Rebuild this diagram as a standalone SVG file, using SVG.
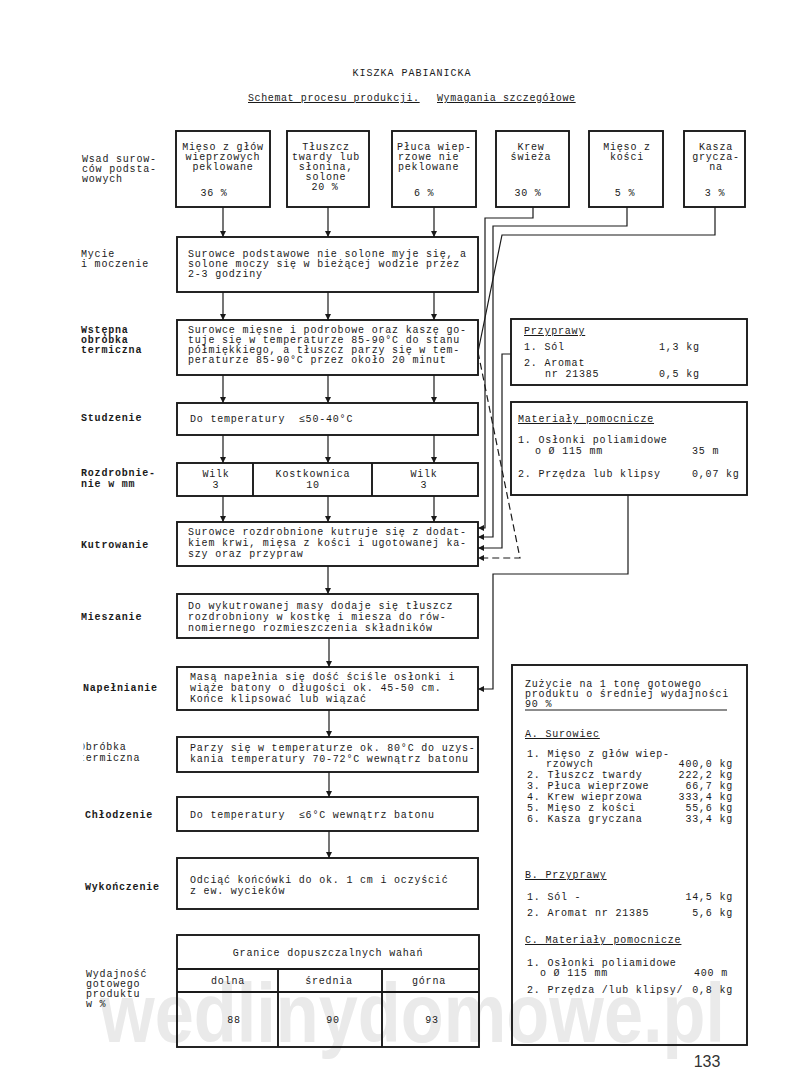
<svg xmlns="http://www.w3.org/2000/svg" width="800" height="1090" viewBox="0 0 800 1090">
<defs>
<style>
.t{font-family:"Liberation Mono","DejaVu Sans Mono",monospace;font-size:10px;letter-spacing:0.8px;fill:#1a1a1a}
.b{font-weight:bold}
.m{text-anchor:middle}
.e{text-anchor:end}
.u{text-decoration:underline}
.box{fill:none;stroke:#1a1a1a;stroke-width:1.9}
.c{fill:none;stroke:#1a1a1a;stroke-width:1.2}
.d{stroke-dasharray:7 4}
</style>
<marker id="ah" viewBox="0 0 10 10" refX="10" refY="5" markerWidth="6" markerHeight="6" markerUnits="userSpaceOnUse" orient="auto"><path d="M0,0L10,5L0,10z" fill="#1a1a1a"/></marker>
<clipPath id="clipL"><rect x="83.5" y="735" width="100" height="35"/></clipPath>
</defs>
<rect width="800" height="1090" fill="#fff"/>
<text x="100" y="1042" font-family="'Liberation Sans',Arial,sans-serif" font-weight="bold" font-size="84" textLength="625" lengthAdjust="spacingAndGlyphs" fill="#eaeaea">wedlinydomowe.pl</text>

<g id="title">
<text class="t" x="412" y="76" text-anchor="middle" style="letter-spacing:1px">KISZKA PABIANICKA</text>
<text class="t u" x="248" y="101" style="letter-spacing:0.6px">Schemat procesu produkcji.</text>
<text class="t u" x="437" y="101" style="letter-spacing:0.6px">Wymagania szczegółowe</text>
</g>

<g id="labels">
<text class="t" x="82" y="162">Wsad surow-</text>
<text class="t" x="82" y="172">ców podsta-</text>
<text class="t" x="82" y="182">wowych</text>
<text class="t" x="81" y="257">Mycie</text>
<text class="t" x="81" y="267">i moczenie</text>
<text class="t b" x="81" y="333">Wstępna</text>
<text class="t b" x="81" y="343">obróbka</text>
<text class="t b" x="81" y="353">termiczna</text>
<text class="t b" x="81" y="421">Studzenie</text>
<text class="t b" x="81" y="476">Rozdrobnie-</text>
<text class="t b" x="81" y="487">nie w mm</text>
<text class="t b" x="81" y="548">Kutrowanie</text>
<text class="t b" x="81" y="620">Mieszanie</text>
<text class="t b" x="83" y="691">Napełnianie</text>
<g clip-path="url(#clipL)">
<text class="t" x="79" y="750">Obróbka</text>
<text class="t" x="79" y="761">termiczna</text>
</g>
<text class="t b" x="85" y="818">Chłodzenie</text>
<text class="t b" x="85" y="890">Wykończenie</text>
<text class="t" x="86" y="977">Wydajność</text>
<text class="t" x="86" y="987">gotowego</text>
<text class="t" x="86" y="997">produktu</text>
<text class="t" x="86" y="1007">w %</text>
</g>

<g id="n-mieso-glow">
<rect class="box" x="176" y="131" width="94" height="76"/>
<text class="t m" x="223" y="150">Mięso z głów</text>
<text class="t m" x="223" y="160">wieprzowych</text>
<text class="t m" x="223" y="170">peklowane</text>
<text class="t m" x="214" y="196">36 %</text>
</g>
<g id="n-tluszcz">
<rect class="box" x="287" y="131" width="82" height="76"/>
<text class="t m" x="326" y="150">Tłuszcz</text>
<text class="t m" x="326" y="160">twardy lub</text>
<text class="t m" x="326" y="170">słonina,</text>
<text class="t m" x="326" y="180">solone</text>
<text class="t m" x="325" y="190">20 %</text>
</g>
<g id="n-pluca">
<rect class="box" x="392" y="131" width="84" height="76"/>
<text class="t" x="397" y="150">Płuca wiep-</text>
<text class="t" x="398" y="160">rzowe nie</text>
<text class="t" x="398" y="170">peklowane</text>
<text class="t" x="414" y="196">6 %</text>
</g>
<g id="n-krew">
<rect class="box" x="496" y="131" width="73" height="76"/>
<text class="t m" x="531" y="150">Krew</text>
<text class="t m" x="531" y="160">świeża</text>
<text class="t m" x="528" y="196">30 %</text>
</g>
<g id="n-mieso-kosci">
<rect class="box" x="589" y="131" width="74" height="76"/>
<text class="t m" x="627" y="150">Mięso z</text>
<text class="t m" x="627" y="160">kości</text>
<text class="t m" x="625" y="196">5 %</text>
</g>
<g id="n-kasza">
<rect class="box" x="684" y="131" width="61" height="76"/>
<text class="t m" x="716" y="150">Kasza</text>
<text class="t m" x="716" y="160">grycza-</text>
<text class="t m" x="716" y="170">na</text>
<text class="t m" x="715" y="196">3 %</text>
</g>

<g id="n-mycie">
<rect class="box" x="177" y="237" width="301" height="55"/>
<text class="t" x="188" y="257">Surowce podstawowe nie solone myje się, a</text>
<text class="t" x="188" y="267">solone moczy się w bieżącej wodzie przez</text>
<text class="t" x="188" y="277">2-3 godziny</text>
</g>
<g id="n-wstepna">
<rect class="box" x="177" y="320" width="301" height="55"/>
<text class="t" x="188" y="333">Surowce mięsne i podrobowe oraz kaszę go-</text>
<text class="t" x="188" y="343">tuje się w temperaturze 85-90°C do stanu</text>
<text class="t" x="188" y="353">półmiękkiego, a tłuszcz parzy się w tem-</text>
<text class="t" x="188" y="363">peraturze 85-90°C przez około 20 minut</text>
</g>
<g id="n-studzenie">
<rect class="box" x="177" y="403" width="301" height="32"/>
<text class="t" x="190" y="422" xml:space="preserve">Do temperatury  ≤50-40°C</text>
</g>
<g id="n-rozdrobnienie">
<rect class="box" x="177" y="463" width="301" height="33"/>
<path class="box" d="M253,463V496M372,463V496"/>
<text class="t m" x="216" y="477">Wilk</text>
<text class="t m" x="216" y="488">3</text>
<text class="t m" x="313" y="477">Kostkownica</text>
<text class="t m" x="313" y="488">10</text>
<text class="t m" x="424" y="477">Wilk</text>
<text class="t m" x="424" y="488">3</text>
</g>
<g id="n-kutrowanie">
<rect class="box" x="177" y="522" width="301" height="44"/>
<text class="t" x="188" y="535">Surowce rozdrobnione kutruje się z dodat-</text>
<text class="t" x="188" y="546">kiem krwi, mięsa z kości i ugotowanej ka-</text>
<text class="t" x="188" y="557">szy oraz przypraw</text>
</g>
<g id="n-mieszanie">
<rect class="box" x="177" y="594" width="301" height="44"/>
<text class="t" x="188" y="609">Do wykutrowanej masy dodaje się tłuszcz</text>
<text class="t" x="188" y="620">rozdrobniony w kostkę i miesza do rów-</text>
<text class="t" x="188" y="631">nomiernego rozmieszczenia składników</text>
</g>
<g id="n-napelnianie">
<rect class="box" x="177" y="667" width="301" height="43"/>
<text class="t" x="190" y="680">Masą napełnia się dość ściśle osłonki i</text>
<text class="t" x="190" y="691">wiąże batony o długości ok. 45-50 cm.</text>
<text class="t" x="190" y="702">Końce klipsować lub wiązać</text>
</g>
<g id="n-obrobka">
<rect class="box" x="177" y="737" width="301" height="35"/>
<text class="t" x="190" y="751">Parzy się w temperaturze ok. 80°C do uzys-</text>
<text class="t" x="190" y="762">kania temperatury 70-72°C wewnątrz batonu</text>
</g>
<g id="n-chlodzenie">
<rect class="box" x="177" y="797" width="301" height="34"/>
<text class="t" x="190" y="818" xml:space="preserve">Do temperatury  ≤6°C wewnątrz batonu</text>
</g>
<g id="n-wykonczenie">
<rect class="box" x="177" y="858" width="301" height="51"/>
<text class="t" x="190" y="883">Odciąć końcówki do ok. 1 cm i oczyścić</text>
<text class="t" x="190" y="894">z ew. wycieków</text>
</g>
<g id="n-wydajnosc">
<rect class="box" x="177" y="935" width="302" height="112"/>
<path class="box" d="M177,969H479M177,992H479M278,969V1047M382,969V1047"/>
<text class="t m" x="328" y="956">Granice dopuszczalnych wahań</text>
<text class="t m" x="228" y="984">dolna</text>
<text class="t m" x="329" y="984">średnia</text>
<text class="t m" x="429" y="984">górna</text>
<text class="t m" x="234" y="1023">88</text>
<text class="t m" x="333" y="1023">90</text>
<text class="t m" x="432" y="1023">93</text>
</g>

<g id="n-przyprawy">
<rect class="box" x="511" y="319" width="236" height="66"/>
<text class="t u" x="524" y="334">Przyprawy</text>
<text class="t" x="524" y="350">1. Sól</text>
<text class="t" x="659" y="350">1,3 kg</text>
<text class="t" x="524" y="366">2. Aromat</text>
<text class="t" x="545" y="377">nr 21385</text>
<text class="t" x="659" y="377">0,5 kg</text>
</g>
<g id="n-materialy">
<rect class="box" x="511" y="402" width="236" height="93"/>
<text class="t u" x="518" y="422">Materiały pomocnicze</text>
<text class="t" x="518" y="443">1. Osłonki poliamidowe</text>
<text class="t" x="535" y="454">o Ø 115 mm</text>
<text class="t" x="692" y="454">35 m</text>
<text class="t" x="518" y="477">2. Przędza lub klipsy</text>
<text class="t" x="692" y="477">0,07 kg</text>
</g>
<g id="n-zuzycie">
<rect class="box" x="512" y="665" width="235" height="380"/>
<text class="t" x="525" y="687">Zużycie na 1 tonę gotowego</text>
<text class="t" x="525" y="697">produktu o średniej wydajności</text>
<text class="t" x="525" y="707">90 %</text>
<path class="c" d="M525,710H727"/>
<text class="t u" x="525" y="737">A. Surowiec</text>
<text class="t" x="527" y="757">1. Mięso z głów wiep-</text>
<text class="t" x="546" y="767">rzowych</text>
<text class="t e" x="733" y="767">400,0 kg</text>
<text class="t" x="527" y="778">2. Tłuszcz twardy</text>
<text class="t e" x="733" y="778">222,2 kg</text>
<text class="t" x="527" y="789">3. Płuca wieprzowe</text>
<text class="t e" x="733" y="789">66,7 kg</text>
<text class="t" x="527" y="800">4. Krew wieprzowa</text>
<text class="t e" x="733" y="800">333,4 kg</text>
<text class="t" x="527" y="811">5. Mięso z kości</text>
<text class="t e" x="733" y="811">55,6 kg</text>
<text class="t" x="527" y="822">6. Kasza gryczana</text>
<text class="t e" x="733" y="822">33,4 kg</text>
<text class="t u" x="525" y="878">B. Przyprawy</text>
<text class="t" x="527" y="900">1. Sól -</text>
<text class="t e" x="733" y="900">14,5 kg</text>
<text class="t" x="527" y="916">2. Aromat nr 21385</text>
<text class="t e" x="733" y="916">5,6 kg</text>
<text class="t u" x="525" y="943">C. Materiały pomocnicze</text>
<text class="t" x="527" y="966">1. Osłonki poliamidowe</text>
<text class="t" x="540" y="976">o Ø 115 mm</text>
<text class="t e" x="728" y="976">400 m</text>
<text class="t" x="527" y="993">2. Przędza /lub klipsy/</text>
<text class="t e" x="733" y="993">0,8 kg</text>
</g>

<g id="page-number">
<text x="707" y="1067" text-anchor="middle" font-family="'Liberation Sans',Arial,sans-serif" font-size="16" fill="#333">133</text>
</g>

<g id="connectors">
<path class="c" marker-end="url(#ah)" d="M223,207V237"/>
<path class="c" marker-end="url(#ah)" d="M328,207V237"/>
<path class="c" marker-end="url(#ah)" d="M434,207V237"/>
<path class="c" marker-end="url(#ah)" d="M223,292V320"/>
<path class="c" marker-end="url(#ah)" d="M328,292V320"/>
<path class="c" marker-end="url(#ah)" d="M434,292V320"/>
<path class="c" marker-end="url(#ah)" d="M223,375V403"/>
<path class="c" marker-end="url(#ah)" d="M328,375V403"/>
<path class="c" marker-end="url(#ah)" d="M434,375V403"/>
<path class="c" marker-end="url(#ah)" d="M223,435V463"/>
<path class="c" marker-end="url(#ah)" d="M328,435V463"/>
<path class="c" marker-end="url(#ah)" d="M434,435V463"/>
<path class="c" marker-end="url(#ah)" d="M223,496V522"/>
<path class="c" marker-end="url(#ah)" d="M328,496V522"/>
<path class="c" marker-end="url(#ah)" d="M434,496V522"/>
<path class="c" marker-end="url(#ah)" d="M328,566V594"/>
<path class="c" marker-end="url(#ah)" d="M329,638V667"/>
<path class="c" marker-end="url(#ah)" d="M329,710V737"/>
<path class="c" marker-end="url(#ah)" d="M329,772V797"/>
<path class="c" marker-end="url(#ah)" d="M329,831V858"/>
<path class="c" marker-end="url(#ah)" d="M533,207V218H485V528H478"/>
<path class="c" marker-end="url(#ah)" d="M627,207V226H493V537H478"/>
<path class="c" d="M715,207V235H502L478,352"/>
<path class="c d" marker-end="url(#ah)" d="M478,352L520,558H478"/>
<path class="c" marker-end="url(#ah)" d="M511,354H502V548H478"/>
<path class="c" marker-end="url(#ah)" d="M628,495V574H493V689H478"/>
</g>
</svg>
